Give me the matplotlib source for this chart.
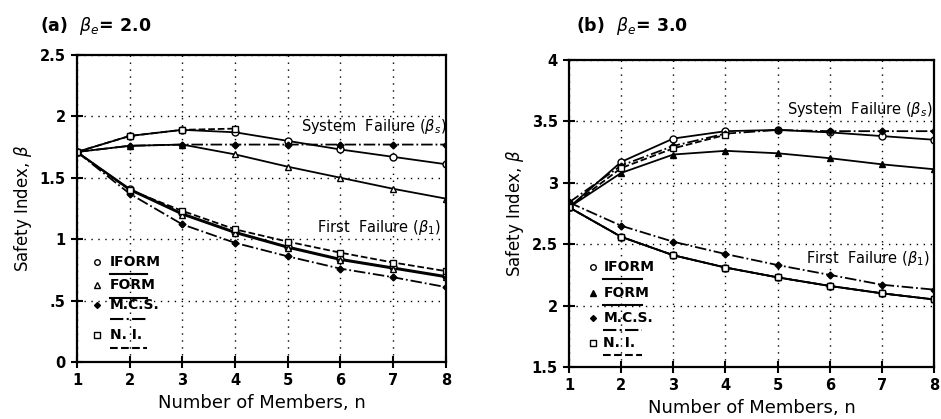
import matplotlib.pyplot as plt
import numpy as np

n = np.arange(1, 9)
n_ni = np.arange(1, 5)

# (a) beta_e = 2.0
a_sys_iform = [1.71, 1.84, 1.89, 1.87, 1.80, 1.73, 1.67, 1.61]
a_sys_form = [1.71, 1.76, 1.77, 1.69, 1.59, 1.50, 1.41, 1.33]
a_sys_mcs = [1.71, 1.76, 1.77, 1.77, 1.77, 1.77, 1.77, 1.77]
a_sys_ni = [1.71, 1.84, 1.89, 1.90]
a_first_iform = [1.71, 1.41, 1.21, 1.06, 0.94, 0.84, 0.77, 0.70]
a_first_form = [1.71, 1.40, 1.20, 1.05, 0.93, 0.83, 0.76, 0.69]
a_first_mcs = [1.71, 1.37, 1.12, 0.97, 0.86, 0.76, 0.69, 0.61]
a_first_ni = [1.71, 1.40, 1.23, 1.08, 0.98, 0.89, 0.81, 0.74]

# (b) beta_e = 3.0
b_sys_iform = [2.80, 3.17, 3.36, 3.42, 3.43, 3.41, 3.38, 3.35]
b_sys_form = [2.80, 3.08, 3.23, 3.26, 3.24, 3.20, 3.15, 3.11]
b_sys_mcs = [2.84, 3.14, 3.30, 3.40, 3.43, 3.42, 3.42, 3.42]
b_sys_ni = [2.80, 3.12, 3.28, 3.39]
b_first_iform = [2.80, 2.56, 2.41, 2.31, 2.23, 2.16, 2.10, 2.05]
b_first_form = [2.80, 2.56, 2.41, 2.31, 2.23, 2.16, 2.10, 2.05]
b_first_mcs = [2.84, 2.65, 2.52, 2.42, 2.33, 2.25, 2.17, 2.13]
b_first_ni = [2.80, 2.56, 2.41, 2.31, 2.23, 2.16, 2.10, 2.05]

a_yticks = [0, 0.5, 1, 1.5, 2, 2.5]
a_ylabels = ['0', '.5', '1', '1.5', '2', '2.5']
b_yticks = [1.5, 2, 2.5, 3, 3.5, 4]
b_ylabels = ['1.5', '2', '2.5', '3', '3.5', '4']

legend_names = ['IFORM', 'FORM', 'M.C.S.', 'N. I.']

plt.rcParams['font.family'] = 'DejaVu Sans'
fig = plt.figure(figsize=(9.41, 4.19), dpi=100)
ax1 = fig.add_axes([0.0818, 0.136, 0.392, 0.733])
ax2 = fig.add_axes([0.6047, 0.124, 0.388, 0.733])

k = 'black'
ms = dict(markersize=5, markeredgewidth=1.0)


def draw(ax, sys_i, sys_f, sys_m, sys_n, fi_i, fi_f, fi_m, fi_n, form_fill):
    tri_face = k if form_fill else 'white'
    ax.plot(n, sys_i, '-', color=k, lw=1.3, marker='o', mfc='white', mec=k, **ms)
    ax.plot(n, sys_f, '-', color=k, lw=1.3, marker='^', mfc=tri_face, mec=k, **ms)
    ax.plot(n, sys_m, '-.', color=k, lw=1.3, marker='D', mfc=k, mec=k, markersize=3.5)
    ax.plot(n_ni, sys_n, '--', color=k, lw=1.3, marker='s', mfc='white', mec=k, **ms)
    ax.plot(n, fi_i, '-', color=k, lw=1.3, marker='o', mfc='white', mec=k, **ms)
    ax.plot(n, fi_f, '-', color=k, lw=1.3, marker='^', mfc=tri_face, mec=k, **ms)
    ax.plot(n, fi_m, '-.', color=k, lw=1.3, marker='D', mfc=k, mec=k, markersize=3.5)
    ax.plot(n, fi_n, '--', color=k, lw=1.3, marker='s', mfc='white', mec=k, **ms)


draw(ax1, a_sys_iform, a_sys_form, a_sys_mcs, a_sys_ni,
     a_first_iform, a_first_form, a_first_mcs, a_first_ni, False)
draw(ax2, b_sys_iform, b_sys_form, b_sys_mcs, b_sys_ni,
     b_first_iform, b_first_form, b_first_mcs, b_first_ni, True)

for ax, yt, yl in [(ax1, a_yticks, a_ylabels), (ax2, b_yticks, b_ylabels)]:
    ax.set_xlim(1, 8)
    ax.set_ylim(yt[0], yt[-1])
    ax.set_xticks(n)
    ax.set_yticks(yt)
    ax.set_yticklabels(yl)
    ax.grid(True, linestyle=(0, (1, 4)), color=k, lw=1.0)
    ax.tick_params(direction='inout', length=9, width=1.5, labelsize=10.5)
    for lab in ax.get_xticklabels() + ax.get_yticklabels():
        lab.set_fontweight('bold')
    for s in ax.spines.values():
        s.set_linewidth(1.6)
    ax.set_xlabel('Number of Members, n', fontsize=13)
    ax.set_ylabel(r'Safety Index, $\beta$', fontsize=12)

# annotations
ax1.text(5.25, 1.88, r'System  Failure ($\beta_s$)', fontsize=10.5)
ax1.text(5.55, 1.06, r'First  Failure ($\beta_1$)', fontsize=10.5)
ax2.text(5.17, 3.56, r'System  Failure ($\beta_s$)', fontsize=10.5)
ax2.text(5.55, 2.35, r'First  Failure ($\beta_1$)', fontsize=10.5)

fig.text(0.042, 0.925, r'(a)  $\beta_e$= 2.0', fontsize=12.5, fontweight='bold')
fig.text(0.612, 0.925, r'(b)  $\beta_e$= 3.0', fontsize=12.5, fontweight='bold')

# hand-drawn style legend
leg_markers = [('o', 'white'), ('^', 'white'), ('D', k), ('s', 'white')]
leg_styles = ['-', '-', '-.', '--']
for ax, mx, tx, tx2, rows, lines, fills in [
        (ax1, 0.054, 0.089, 0.19, [0.326, 0.251, 0.186, 0.088],
         [0.285, 0.21, 0.14, 0.045], [False, False, True, False]),
        (ax2, 0.065, 0.094, 0.2, [0.326, 0.241, 0.16, 0.078],
         [0.288, 0.203, 0.122, 0.038], [False, True, True, False])]:
    for name, (m, fc), st, ry, ly, fl in zip(legend_names, leg_markers,
                                              leg_styles, rows, lines, fills):
        face = k if fl else 'white'
        ax.plot([mx], [ry], marker=m, mfc=face, mec=k,
                markersize=4 if m != 'D' else 3, transform=ax.transAxes,
                clip_on=False)
        ax.text(tx, ry, name, transform=ax.transAxes, va='center',
                fontsize=10, fontweight='bold')
        ax.plot([tx, tx2], [ly, ly], st, color=k, lw=1.5,
                transform=ax.transAxes)

plt.savefig('out.png', dpi=100)
